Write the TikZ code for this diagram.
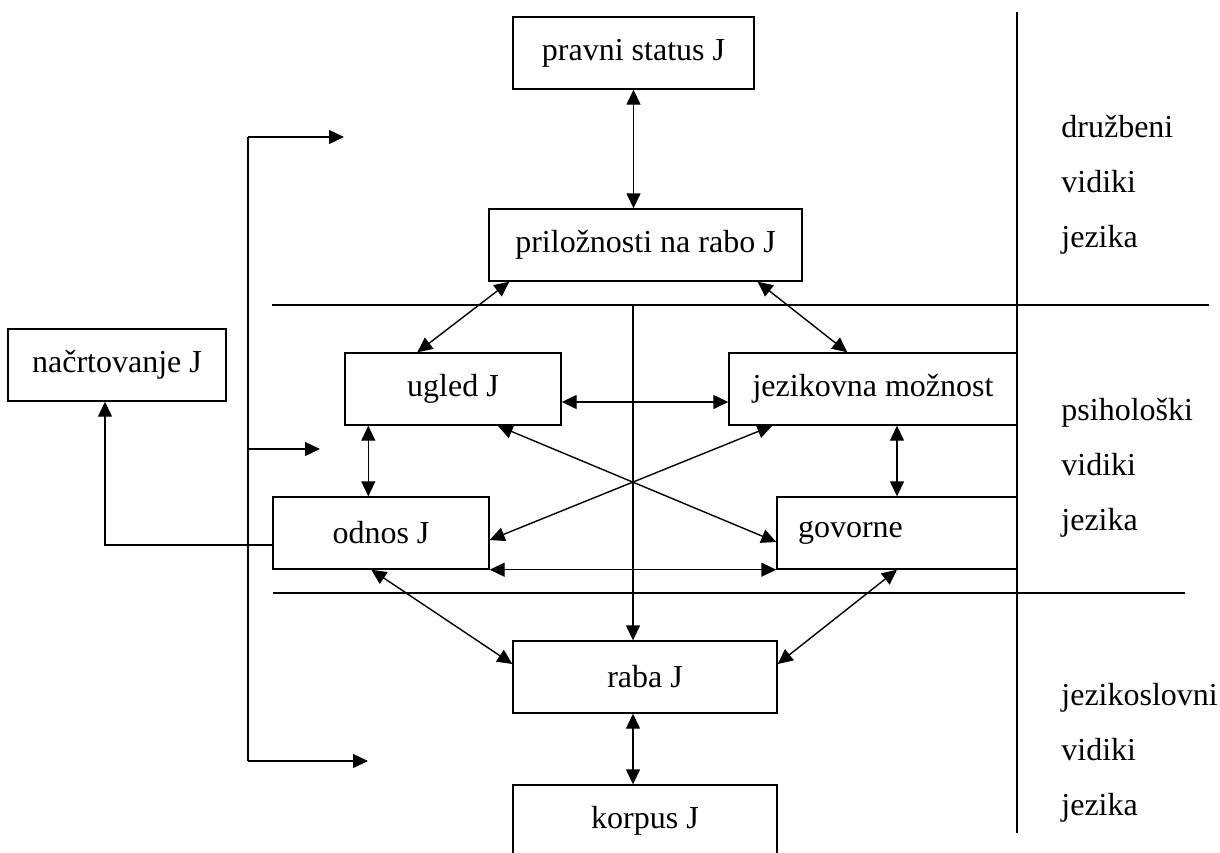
\documentclass[tikz,border=0pt]{standalone}
\usepackage{fontspec}
\setmainfont{Liberation Serif}
\usetikzlibrary{arrows.meta,calc}

\begin{document}
\begin{tikzpicture}[x=0.5pt,y=-0.5pt]

	\tikzstyle box lines=[draw, line width=0.7pt, minimum height=36pt, inner sep=0pt, font=\fontsize{16}{19}\selectfont];
	\tikzstyle link lines=[line width=0.7pt, {Triangle[length=7.5pt,width=7pt]}-{Triangle[length=7.5pt,width=7pt]}];
	\tikzstyle feed lines=[line width=0.7pt, -{Triangle[length=7.5pt,width=7pt]}];
	\tikzstyle frame lines=[line width=0.7pt];
	\tikzstyle side labels=[anchor=base west, inner sep=0pt, font=\fontsize{16}{19}\selectfont];

	\clip (0,0) rectangle (1220,852);

	% boxes
	\node[box lines, minimum width=120.5pt] (pravni) at (633.5,53) {pravni status J};
	\node[box lines, minimum width=156.5pt] (prilo) at (645.5,245) {priložnosti na rabo J};
	\node[box lines, minimum width=108pt] (ugled) at (453,389) {ugled J};
	\node[box lines, minimum width=144pt] (moznost) at (873,389) {jezikovna možnost};
	\node[box lines, minimum width=108pt] (odnos) at (381,533) {odnos J};
	\node[box lines, text width=99pt, inner xsep=10.5pt, align=left] (govorne) at (897,533) {govorne};
	\node[box lines, minimum width=109pt] (nacrt) at (117,365) {načrtovanje J};
	\node[box lines, minimum width=132pt] (raba) at (645,677) {raba J};
	\node[box lines, minimum width=132pt] (korpus) at (645,821) {korpus J};

	% separators
	\draw[frame lines] (1017,12) -- (1017,833);
	\draw[frame lines] (272,305) -- (1209,305);
	\draw[frame lines] (273,593) -- (1185,593);

	% links between the boxes
	\coordinate (axis) at (633,305);
	\draw[link lines] (pravni.south) -- (pravni.south |- prilo.north);
	\draw[link lines] ($(prilo.south west)+(21,0)$) -- ($(ugled.north west)+(73,0)$);
	\draw[link lines] ($(prilo.south east)+(-45,0)$) -- ($(moznost.north west)+(119,0)$);
	\draw[link lines] ($(ugled.east)+(0,13)$) -- ($(moznost.west)+(0,13)$);
	\draw[link lines] ($(ugled.south west)+(24,0)$) -- ($(odnos.north west)+(96,0)$);
	\draw[link lines] (govorne.north |- moznost.south) -- (govorne.north);
	\draw[link lines] ($(ugled.south east)+(-64,0)$) -- ($(govorne.west)+(0,9)$);
	\draw[link lines] ($(moznost.south west)+(44,0)$) -- ($(odnos.east)+(0,7)$);
	\draw[link lines] (odnos.south east) -- (govorne.south west);
	\draw[link lines] ($(odnos.south west)+(99,0)$) -- ($(raba.west)+(0,-13)$);
	\draw[link lines] (govorne.south) -- ($(raba.east)+(0,-13)$);
	\draw[link lines] (axis |- raba.south) -- (axis |- korpus.north);
	\draw[feed lines] (axis) -- (axis |- raba.north);

	% feedback to planning
	\draw[feed lines] ($(odnos.west)+(0,12)$) -| ($(nacrt.south)+(-12,0)$);

	% bracket on the left
	\coordinate (br top) at (248,137);
	\coordinate (br bottom) at (248,761);
	\draw[frame lines] (br top) -- (br bottom);
	\foreach \name/\x/\y in {tip soc/344/137, tip psy/320/449, tip lin/368/761}
		{\coordinate (\name) at (\x,\y);
		\draw[feed lines] (br top |- \name) -- (\name);}

	% side labels
	\foreach \txt/\y [count=\i] in {družbeni/137, vidiki/192, jezika/247, psihološki/420, vidiki/475, jezika/530, jezikoslovni/705, vidiki/760, jezika/815}
		\node[side labels] (side\i) at (1061,\y) {\txt};

\end{tikzpicture}
\end{document}
